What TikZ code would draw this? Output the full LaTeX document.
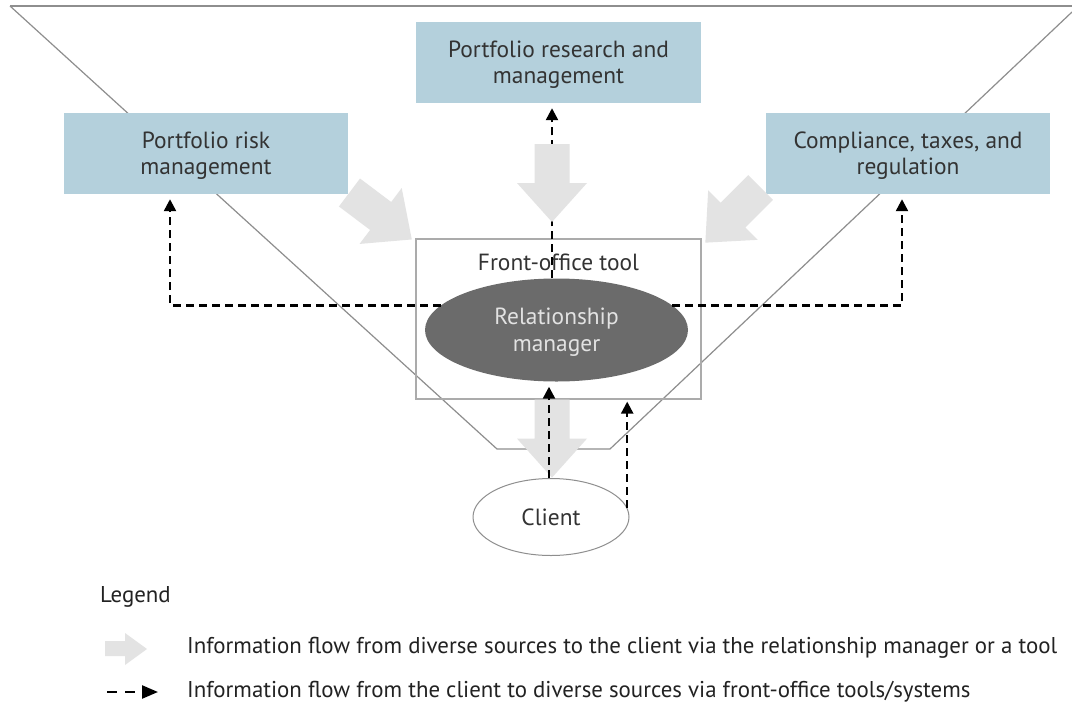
\documentclass[tikz,border=0pt]{standalone}
\usepackage{fontspec}
\setmainfont{PT Sans}
\usetikzlibrary{arrows.meta,shapes.geometric}
\definecolor{boxblue}{HTML}{B4D0DC}
\definecolor{flowgray}{HTML}{E3E3E3}
\definecolor{rmgray}{HTML}{6B6B6B}
\definecolor{rmtext}{HTML}{E2E2E2}
\definecolor{linegray}{HTML}{8E8E8E}
\definecolor{fogray}{HTML}{ABABAB}
\definecolor{txt}{HTML}{333333}
\definecolor{legtxt}{HTML}{222222}
\newlength\wA
\newlength\wB
\begin{document}
\settowidth\wA{\fontsize{20}{24}\selectfont Compliance, taxes, and}%
\pgfmathsetmacro\fsA{229/\wA*20}%
\settowidth\wB{\fontsize{20}{24}\selectfont Information flow from diverse sources to the client via the relationship manager or a tool}%
\pgfmathsetmacro\fsB{870/\wB*20}%
\begin{tikzpicture}[x=1pt,y=-1pt]
\tikzset{
  srcbox/.style={rectangle, fill=boxblue, minimum width=284pt, minimum height=81pt,
    inner sep=0pt, align=center, text=txt, text depth=0pt, font=\fontsize{\fsA}{26}\selectfont},
  funnel/.style={draw=linegray, line width=1.2pt},
  fb/.style={draw=black, line width=2.4pt, dash pattern=on 8pt off 5pt,
    -{Triangle[length=12pt,width=12pt]}},
  bigarrow/.pic={\fill[flowgray] (0,-17.5) -- (39,-17.5) -- (39,-35) -- (78,0)
    -- (39,35) -- (39,17.5) -- (0,17.5) -- cycle;},
  legfont/.style={font=\fontsize{\fsB}{24}\selectfont, text=legtxt, inner sep=0pt}
}
\useasboundingbox (0,0) rectangle (1072,713);
\fill[white] (0,0) rectangle (1072,713);

% funnel outline
\draw[funnel] (10,6) -- (1072,6);
\draw[funnel] (10,6) -- (497,449) -- (610,449) -- (1072,12);

% source boxes
\node[srcbox] (risk) at (206,153.5) {Portfolio risk\\management};
\node[srcbox, minimum width=285pt] (research) at (558.5,62.5) {Portfolio research and\\management};
\node[srcbox] (comp) at (908,153.5) {Compliance, taxes, and\\regulation};

% front-office tool
\node[draw=fogray, line width=1.2pt, minimum width=285pt, minimum height=160pt, inner sep=0pt] (fo) at (558.5,319) {};
\node[anchor=base, text=txt, inner sep=0pt, font=\fontsize{\fsA}{26}\selectfont] (fotext) at (558.5,270) {Front-office tool};
\node[ellipse, fill=rmgray, minimum width=263pt, minimum height=103pt, inner sep=0pt,
  align=center, text=rmtext, text depth=0pt, font=\fontsize{\fsA}{27}\selectfont] (rm) at (556.5,330) {Relationship\\manager};
\node[ellipse, draw=linegray, line width=1pt, fill=white, minimum width=156pt, minimum height=77pt, inner sep=0pt,
  text=txt, font=\fontsize{\fsA}{26}\selectfont] (client) at (551,517) {Client};

\coordinate (colx) at (552,0);
\coordinate (cl2x) at (549,0);

% dashed arrow under the top grey arrow
\draw[fb, shorten >=5pt] (rm.north -| colx) -- (research.south -| colx);

% grey flow arrows
\pic[rotate=-90] at (552,144) {bigarrow};
\pic[rotate=-37] at (349.5,192.5) {bigarrow};
\pic[rotate=-135] at (760.5,187.5) {bigarrow};
\pic[rotate=-90] at (552,399.6) {bigarrow};

% dashed feedback arrows
\draw[fb, shorten >=5pt] (rm.168) -| ([xshift=-36pt]risk.south);
\draw[fb, shorten >=5pt] (rm.12) -| ([xshift=-6pt]comp.south);
\draw[fb, shorten >=5pt] (client.north -| cl2x) -- (rm.south -| cl2x);
\draw[fb, shorten >=2pt] (client.7) -- (client.7 |- fo.south);

% legend
\node[legfont, anchor=base west] (leg) at (100,602) {Legend};
\fill[flowgray] (105,641) -- (125,641) -- (125,633) -- (147,649) -- (125,665) -- (125,656) -- (105,656) -- cycle;
\node[legfont, anchor=base west] (l1) at (187,653) {Information flow from diverse sources to the client via the relationship manager or a tool};
\coordinate (ls) at (107,692);
\coordinate (le) at (158,692);
\draw[black, line width=2.4pt, dash pattern=on 10pt off 8pt, -{Triangle[length=16pt,width=13pt]}] (ls) -- (le);
\node[legfont, anchor=base west] (l2) at (187,697) {Information flow from the client to diverse sources via front-office tools/systems};
\end{tikzpicture}
\end{document}
